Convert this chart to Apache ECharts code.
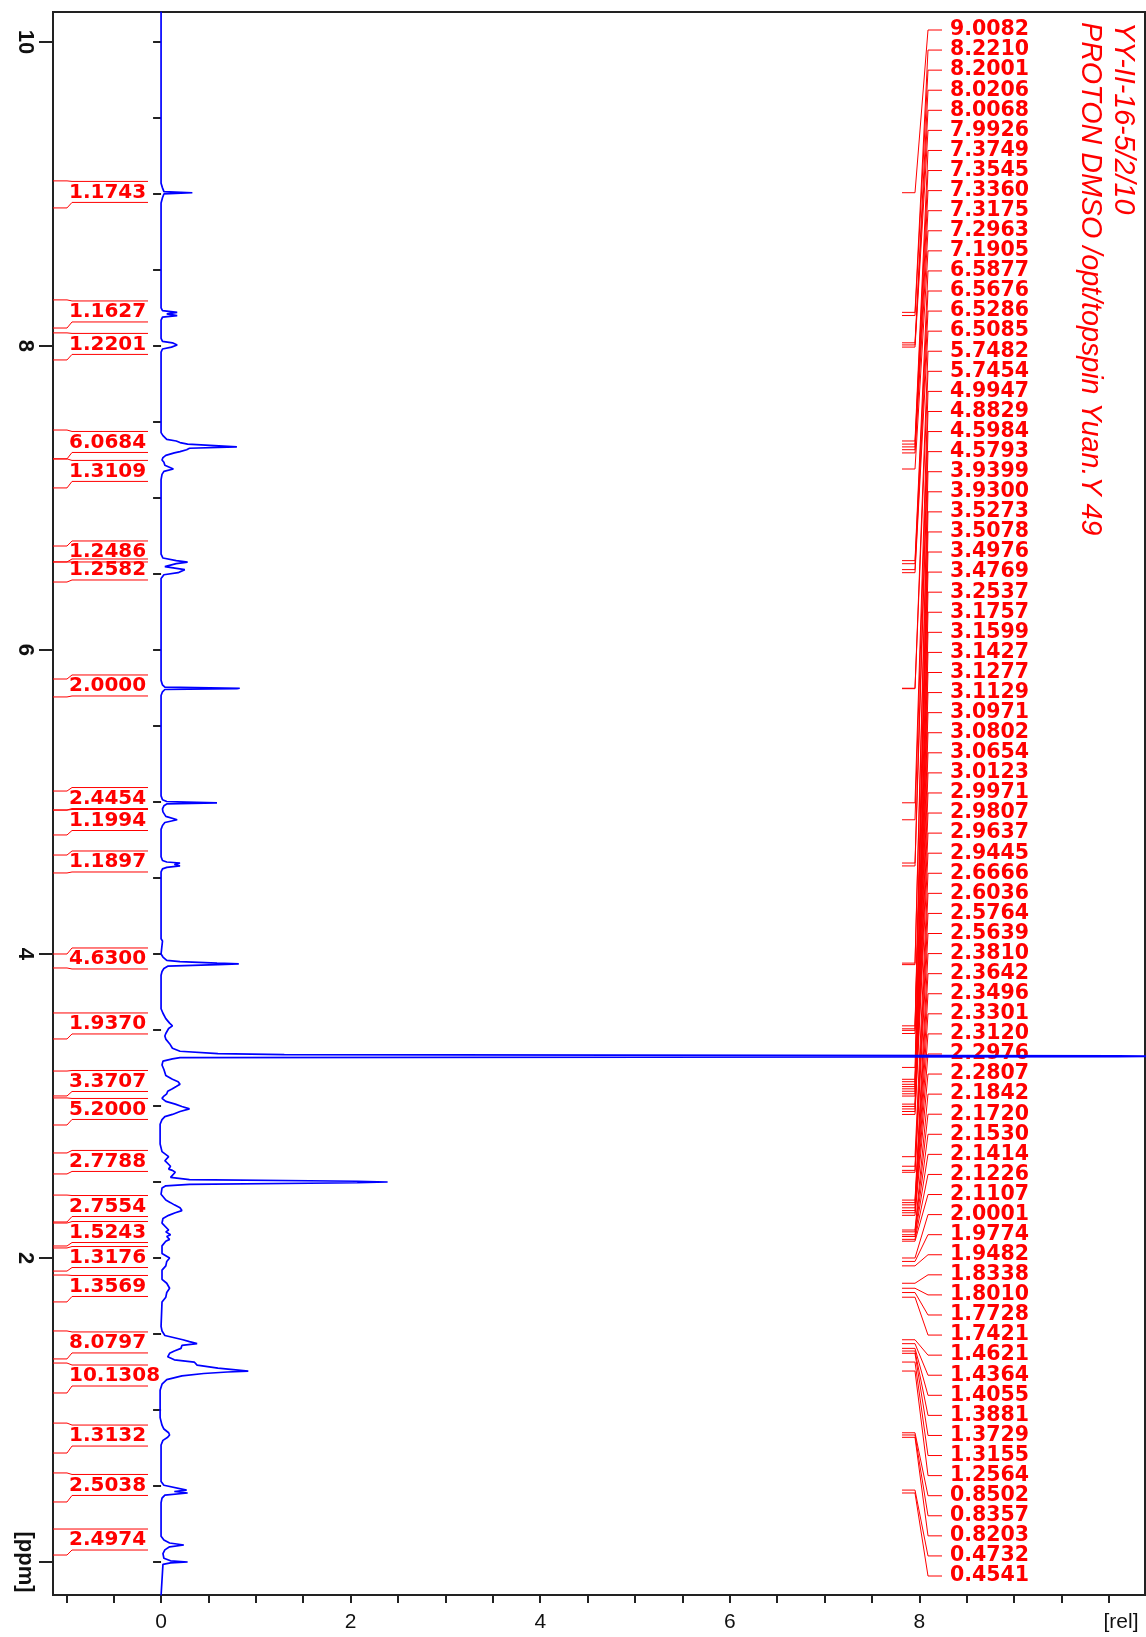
<!DOCTYPE html>
<html>
<head>
<meta charset="utf-8">
<script src="https://cdn.jsdelivr.net/npm/echarts@6/dist/echarts.min.js"></script>
<style>
  html, body { margin: 0; padding: 0; background: #fff; }
  #main { width: 1146px; height: 1637px; }
</style>
</head>
<body>
<div id="main"></div>
<script>
// spectrum trace (ppm, intensity)
var specPpm = [10.2, 9.07, 9.04, 9.015, 9.008, 9.0, 8.975, 8.94,
  8.25, 8.232, 8.221, 8.211, 8.200, 8.19, 8.17,
  8.05, 8.03, 8.0206, 8.0068, 7.9926, 7.98, 7.96,
  7.43, 7.41, 7.385, 7.3749, 7.3645, 7.3545, 7.345, 7.3360, 7.327, 7.3175, 7.305, 7.2963, 7.28, 7.265, 7.25, 7.235, 7.215, 7.1905, 7.175, 7.155, 7.12,
  6.63, 6.605, 6.5877, 6.5776, 6.5676, 6.548, 6.5286, 6.5186, 6.5085, 6.495, 6.47,
  5.80, 5.77, 5.755, 5.7482, 5.7454, 5.74, 5.725, 5.70,
  5.04, 5.015, 5.003, 4.9947, 4.987, 4.975, 4.955, 4.935, 4.905, 4.8829, 4.865, 4.845, 4.82,
  4.64, 4.615, 4.605, 4.5984, 4.589, 4.5793, 4.57, 4.56, 4.54,
  4.1, 4.085, 4.075, 4.0, 3.98, 3.958, 3.95, 3.9399, 3.935, 3.93, 3.92, 3.905, 3.885, 3.86,
  3.64, 3.61, 3.575, 3.545, 3.5273, 3.51, 3.4976, 3.4769, 3.46, 3.44, 3.41, 3.38, 3.36, 3.345, 3.338, 3.33, 3.327, 3.324, 3.318, 3.31, 3.295, 3.27,
  3.24, 3.2, 3.1757, 3.1599, 3.1427, 3.1277, 3.1129, 3.0971, 3.0802, 3.0654, 3.05, 3.03, 3.0123, 2.9971, 2.9807, 2.9637, 2.9445, 2.93, 2.91, 2.88, 2.75,
  2.70, 2.6666, 2.64, 2.6036, 2.585, 2.5764, 2.5639, 2.53, 2.515, 2.505, 2.50, 2.495, 2.485, 2.475, 2.46, 2.42,
  2.3810, 2.3642, 2.3496, 2.3301, 2.3120, 2.2976, 2.2807, 2.26, 2.23,
  2.1842, 2.1720, 2.1530, 2.1414, 2.1226, 2.1107, 2.08, 2.03, 2.0001, 1.9774, 1.9482, 1.92,
  1.86, 1.8338, 1.8010, 1.7728, 1.7421, 1.71, 1.55,
  1.52, 1.49, 1.4621, 1.45, 1.4364, 1.425, 1.4055, 1.3881, 1.3729, 1.35, 1.33, 1.3155, 1.295, 1.275, 1.2564, 1.25, 1.24, 1.225, 1.2, 1.17, 1.13,
  0.95, 0.90, 0.875, 0.8502, 0.8357, 0.8203, 0.80, 0.77,
  0.53, 0.505, 0.4732, 0.464, 0.4541, 0.44, 0.42, 0.39,
  0.17, 0.145, 0.125, 0.112, 0.1, 0.08, 0.055, 0.025, 0.008, 0.0, -0.006, -0.015, -0.22];
var specInt = [0, 0, 0.015, 0.03, 0.33, 0.03, 0.015, 0,
  0, 0.015, 0.17, 0.06, 0.17, 0.015, 0,
  0, 0.015, 0.12, 0.17, 0.11, 0.015, 0,
  0, 0.02, 0.06, 0.16, 0.2, 0.28, 0.3, 0.80, 0.3, 0.27, 0.2, 0.14, 0.05, 0.02, 0.01, 0.03, 0.04, 0.13, 0.03, 0.01, 0,
  0, 0.02, 0.16, 0.28, 0.16, 0.04, 0.25, 0.26, 0.18, 0.03, 0,
  0, 0.015, 0.04, 0.83, 0.8, 0.04, 0.015, 0,
  0, 0.015, 0.06, 0.59, 0.06, 0.03, 0.015, 0.02, 0.05, 0.17, 0.04, 0.015, 0,
  0, 0.015, 0.06, 0.2, 0.14, 0.2, 0.06, 0.015, 0,
  0, 0.015, 0, 0, 0.02, 0.06, 0.2, 0.59, 0.82, 0.6, 0.07, 0.03, 0.01, 0,
  0, 0.02, 0.05, 0.09, 0.12, 0.08, 0.09, 0.05, 0.04, 0.05, 0.09, 0.12, 0.2, 0.6, 1.3, 10.1, 10.6, 10.1, 0.2, 0.12, 0.02, 0.01,
  0.03, 0.05, 0.12, 0.18, 0.2, 0.16, 0.12, 0.07, 0.06, 0.03, 0.01, 0.05, 0.15, 0.22, 0.3, 0.2, 0.12, 0.04, 0.01, -0.01, -0.01,
  0.01, 0.08, 0.04, 0.1, 0.08, 0.12, 0.15, 0.1, 0.3, 2.07, 2.39, 2.07, 0.3, 0.05, 0.01, 0,
  0.05, 0.1, 0.14, 0.2, 0.22, 0.15, 0.08, 0.02, 0.01,
  0.08, 0.05, 0.1, 0.06, 0.09, 0.05, 0.01, 0.01, 0.09, 0.06, 0.05, 0.01,
  0.01, 0.06, 0.09, 0.06, 0.05, 0.01, 0,
  0.01, 0.04, 0.23, 0.3, 0.38, 0.22, 0.21, 0.14, 0.09, 0.07, 0.14, 0.35, 0.38, 0.6, 0.92, 0.7, 0.45, 0.22, 0.06, 0.01, -0.01,
  -0.01, 0.01, 0.03, 0.08, 0.09, 0.07, 0.02, 0,
  0, 0.03, 0.27, 0.14, 0.28, 0.04, 0.01, 0,
  0, 0.03, 0.09, 0.24, 0.09, 0.04, 0.02, 0.03, 0.1, 0.28, 0.1, 0.02, 0];

// integrals: region start/end (ppm) and value
var intStart = [9.086, 8.303, 8.086, 7.447, 7.257, 6.684, 6.579, 5.809, 5.072, 4.947, 4.651, 4.0,
  3.612, 3.230, 3.053, 2.691, 2.414, 2.230, 2.066, 1.888, 1.520, 1.309, 0.914, 0.586, 0.217];
var intEnd = [8.908, 8.118, 7.908, 7.257, 7.066, 6.579, 6.447, 5.691, 4.947, 4.783, 4.533, 3.908,
  3.441, 3.066, 2.875, 2.553, 2.237, 2.079, 1.914, 1.711, 1.336, 1.112, 0.717, 0.395, 0.046];
var intValue = [1.1743, 1.1627, 1.2201, 6.0684, 1.3109, 1.2486, 1.2582, 2.0000, 2.4454, 1.1994, 1.1897, 4.6300,
  1.9370, 3.3707, 5.2000, 2.7788, 2.7554, 1.5243, 1.3176, 1.3569, 8.0797, 10.1308, 1.3132, 2.5038, 2.4974];

// picked peaks (ppm)
var peakPpm = [9.0082, 8.2210, 8.2001, 8.0206, 8.0068, 7.9926, 7.3749, 7.3545, 7.3360, 7.3175, 7.2963, 7.1905,
  6.5877, 6.5676, 6.5286, 6.5085, 5.7482, 5.7454, 4.9947, 4.8829, 4.5984, 4.5793, 3.9399, 3.9300,
  3.5273, 3.5078, 3.4976, 3.4769, 3.2537, 3.1757, 3.1599, 3.1427, 3.1277, 3.1129, 3.0971, 3.0802,
  3.0654, 3.0123, 2.9971, 2.9807, 2.9637, 2.9445, 2.6666, 2.6036, 2.5764, 2.5639, 2.3810, 2.3642,
  2.3496, 2.3301, 2.3120, 2.2976, 2.2807, 2.1842, 2.1720, 2.1530, 2.1414, 2.1226, 2.1107, 2.0001,
  1.9774, 1.9482, 1.8338, 1.8010, 1.7728, 1.7421, 1.4621, 1.4364, 1.4055, 1.3881, 1.3729, 1.3155,
  1.2564, 0.8502, 0.8357, 0.8203, 0.4732, 0.4541];

var xTicks = [-1, -0.5, 0, 0.5, 1, 1.5, 2, 2.5, 3, 3.5, 4, 4.5, 5, 5.5, 6, 6.5, 7, 7.5, 8, 8.5, 9, 9.5, 10];
var xLabels = [0, 2, 4, 6, 8, 10];
var yMinorTicks = [0, 0.5, 1, 1.5, 2, 2.5, 3, 3.5, 4, 4.5, 5, 5.5, 6, 6.5, 7, 7.5, 8, 8.5, 9, 9.5, 10];
var yLabels = [0, 2, 4, 6, 8, 10];
var titleLines = ['YY-II-16-5/2/10', 'PROTON DMSO /opt/topspin Yuan.Y 49'];

var RED = '#ff0000';
var LABEL_FONT = 'DejaVu Sans';

var chart = echarts.init(document.getElementById('main'), null, {renderer: 'canvas'});

var specData = specPpm.map(function (p, i) { return [specInt[i], p]; });
var intData = intStart.map(function (s, i) { return [0, s, intEnd[i]]; });
var peakData = peakPpm.map(function (p) { return [0, p]; });

function renderIntegral(params, api) {
    var cs = params.coordSys;
    var i = params.dataIndex;
    var yS = api.coord([0, api.value(1)])[1];
    var yE = api.coord([0, api.value(2)])[1];
    var mid = (yS + yE) / 2;
    var xL = cs.x, xStub = cs.x + 14, xDiag = cs.x + 19, xR = cs.x + 95;
    var over = mid - 13, under = mid + 8;
    return {
        type: 'group',
        children: [
            {type: 'polyline', shape: {points: [[xL, yS], [xStub, yS], [xDiag, over], [xR, over]]},
             style: {stroke: RED, lineWidth: 1, fill: null}},
            {type: 'polyline', shape: {points: [[xL, yE], [xStub, yE], [xDiag, under], [xR, under]]},
             style: {stroke: RED, lineWidth: 1, fill: null}},
            {type: 'text', style: {text: intValue[i].toFixed(4), x: cs.x + 16, y: mid - 2,
             fill: RED, fontSize: 20, fontWeight: 'bold', fontFamily: LABEL_FONT, align: 'left', verticalAlign: 'middle'}}
        ]
    };
}

function renderPeak(params, api) {
    var cs = params.coordSys;
    var i = params.dataIndex;
    var n = peakPpm.length;
    var yP = api.coord([0, api.value(1)])[1];
    var step = (cs.height - 37) / (n - 1);
    var yL = cs.y + 18 + i * step;
    var x0 = cs.x + 849, x1 = cs.x + 862, x2 = cs.x + 875, x3 = cs.x + 889;
    return {
        type: 'group',
        children: [
            {type: 'polyline', shape: {points: [[x0, yP], [x1, yP], [x2, yL], [x3, yL]]},
             style: {stroke: RED, lineWidth: 1, fill: null}},
            {type: 'text', style: {text: peakPpm[i].toFixed(4), x: cs.x + 897, y: yL,
             fill: RED, fontSize: 20.5, fontWeight: 'bold', fontFamily: LABEL_FONT, align: 'left', verticalAlign: 'middle'}}
        ]
    };
}

var option = {
    animation: false,
    backgroundColor: '#ffffff',
    grid: {left: 53, top: 12, right: 1, bottom: 42, show: true, borderColor: '#222', borderWidth: 2,
           containLabel: false},
    xAxis: {
        type: 'value', min: -1.14, max: 10.38,
        splitLine: {show: false},
        axisLine: {show: true, onZero: false, lineStyle: {color: '#222', width: 2}},
        axisTick: {show: true, customValues: xTicks, length: 8, lineStyle: {color: '#222', width: 2}},
        axisLabel: {customValues: xLabels, margin: 17, color: '#111', fontSize: 21,
                    fontFamily: 'Liberation Sans',
                    formatter: function (v) { return v === 10 ? '{r|[rel]}' : String(v); },
                    rich: {r: {fontSize: 21, fontFamily: 'Liberation Sans', color: '#111', padding: [0, 0, 0, 24]}}}
    },
    yAxis: [{
        type: 'value', min: -0.217, max: 10.197,
        splitLine: {show: false},
        axisLine: {show: true, onZero: false, lineStyle: {color: '#222', width: 2}},
        axisTick: {show: true, customValues: yLabels, length: 14, lineStyle: {color: '#222', width: 2}},
        axisLabel: {customValues: yLabels, rotate: -90, margin: 17, color: '#111', fontSize: 22,
                    fontWeight: 'bold', fontFamily: 'Liberation Sans',
                    formatter: function (v) { return v === 0 ? '[ppm]' : String(v); }}
    }, {
        type: 'value', min: -0.217, max: 10.197, position: 'left',
        splitLine: {show: false},
        axisLine: {show: false},
        axisTick: {show: true, customValues: yMinorTicks, length: 8, lineStyle: {color: '#222', width: 2}},
        axisLabel: {show: false}
    }],
    graphic: [
        {type: 'text', x: 1137, y: 22, rotation: -Math.PI / 2,
         style: {text: titleLines[0], fill: RED, font: 'italic 28.7px "Liberation Sans"', align: 'left', verticalAlign: 'top'}},
        {type: 'text', x: 1104, y: 22, rotation: -Math.PI / 2,
         style: {text: titleLines[1], fill: RED, font: 'italic 28.7px "Liberation Sans"', align: 'left', verticalAlign: 'top'}}
    ],
    series: [
        {type: 'custom', name: 'integrals', renderItem: renderIntegral, data: intData,
         encode: {x: 0, y: [1, 2]}, silent: true, z: 2},
        {type: 'custom', name: 'peaks', renderItem: renderPeak, data: peakData,
         encode: {x: 0, y: 1}, silent: true, z: 2},
        {type: 'line', name: 'spectrum', data: specData, showSymbol: false, symbol: 'none',
         clip: true, z: 5, lineStyle: {color: '#0000ff', width: 1.7}}
    ]
};

chart.setOption(option);
</script>
</body>
</html>
